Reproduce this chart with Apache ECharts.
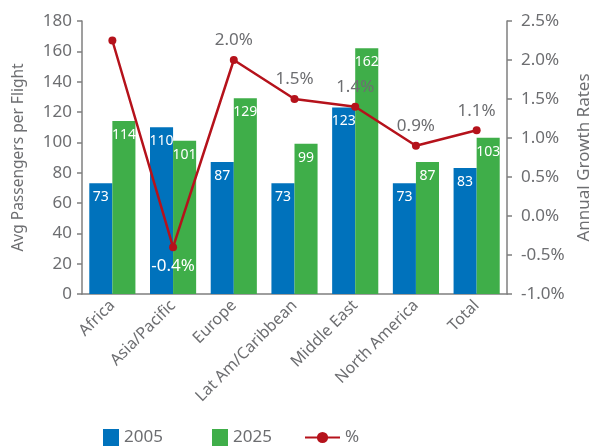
<!DOCTYPE html>
<html>
<head>
<meta charset="utf-8">
<script src="https://cdn.jsdelivr.net/npm/echarts@6/dist/echarts.min.js"></script>
<style>html,body{margin:0;padding:0;background:#fff;}#c{width:603px;height:448px;}</style>
</head>
<body>
<div id="c"></div>
<script>
const categories = ['Africa', 'Asia/Pacific', 'Europe', 'Lat Am/Caribbean', 'Middle East', 'North America', 'Total'];
const pax2005 = [73, 110, 87, 73, 123, 73, 83];
const pax2025 = [114, 101, 129, 99, 162, 87, 103];
const growth = [2.25, -0.4, 2.0, 1.5, 1.4, 0.9, 1.1];
const leftTicks = { min: 0, max: 180, interval: 20 };
const rightTicks = { min: -1, max: 2.5, interval: 0.5 };

const grey = '#6d6e71';
const axisGrey = '#7f7f7f';
const font = 'Noto Sans';

const lineData = growth.map((v, i) => {
  if (i === 0) return { value: v, label: { show: false } };
  if (v < 0) return { value: v, label: { position: 'bottom', color: '#fff', distance: 6 } };
  return v;
});

const chart = echarts.init(document.getElementById('c'));
chart.setOption({
  animation: false,
  textStyle: { fontFamily: font },
  grid: { left: 82, right: 96, top: 21, bottom: 154 },
  legend: [
    { left: 98, top: 424, itemWidth: 16, itemHeight: 17, icon: 'rect', data: ['2005'],
      textStyle: { color: grey, fontSize: 17, fontFamily: font } },
    { left: 207, top: 424, itemWidth: 16, itemHeight: 17, icon: 'rect', data: ['2025'],
      textStyle: { color: grey, fontSize: 17, fontFamily: font } },
    { left: 299, top: 424, itemWidth: 35, itemHeight: 14, data: ['%'],
      textStyle: { color: grey, fontSize: 17, fontFamily: font } }
  ],
  xAxis: {
    type: 'category',
    data: categories,
    axisLine: { lineStyle: { color: axisGrey, width: 1.5 } },
    axisTick: { length: 5, lineStyle: { color: axisGrey, width: 1.5 } },
    axisLabel: { rotate: 45, color: grey, fontSize: 16, margin: 9, interval: 0 }
  },
  yAxis: [
    {
      type: 'value', min: leftTicks.min, max: leftTicks.max, interval: leftTicks.interval,
      name: 'Avg Passengers per Flight', nameLocation: 'middle', nameGap: 55,
      nameTextStyle: { color: grey, fontSize: 15.5 },
      axisLine: { show: true, lineStyle: { color: axisGrey, width: 1.5 } },
      axisTick: { show: true, length: 5, lineStyle: { color: axisGrey, width: 1.5 } },
      axisLabel: { color: grey, fontSize: 17, margin: 10 },
      splitLine: { show: false }
    },
    {
      type: 'value', min: rightTicks.min, max: rightTicks.max, interval: rightTicks.interval,
      name: 'Annual Growth Rates', nameLocation: 'middle', nameGap: 68,
      nameTextStyle: { color: grey, fontSize: 17 },
      axisLine: { show: true, lineStyle: { color: axisGrey, width: 1.5 } },
      axisTick: { show: true, length: 5, lineStyle: { color: axisGrey, width: 1.5 } },
      axisLabel: { color: grey, fontSize: 17, margin: 14, formatter: v => v.toFixed(1) + '%' },
      splitLine: { show: false }
    }
  ],
  series: [
    {
      name: '2005', type: 'bar', data: pax2005, barGap: '0%', barCategoryGap: '24%',
      itemStyle: { color: '#0072bc' },
      label: { show: true, position: 'insideTop', distance: 7, color: '#fff', fontSize: 14 }
    },
    {
      name: '2025', type: 'bar', data: pax2025, barGap: '0%', barCategoryGap: '24%',
      itemStyle: { color: '#3fae49' },
      label: { show: true, position: 'insideTop', distance: 7, color: '#fff', fontSize: 14 }
    },
    {
      name: '%', type: 'line', yAxisIndex: 1, data: lineData, z: 5,
      symbol: 'circle', symbolSize: 8,
      lineStyle: { color: '#b5121b', width: 2.5 },
      itemStyle: { color: '#b5121b' },
      label: { show: true, position: 'top', distance: 7, color: grey, fontSize: 17,
        formatter: p => p.value.toFixed(1) + '%' }
    }
  ]
});
</script>
</body>
</html>
